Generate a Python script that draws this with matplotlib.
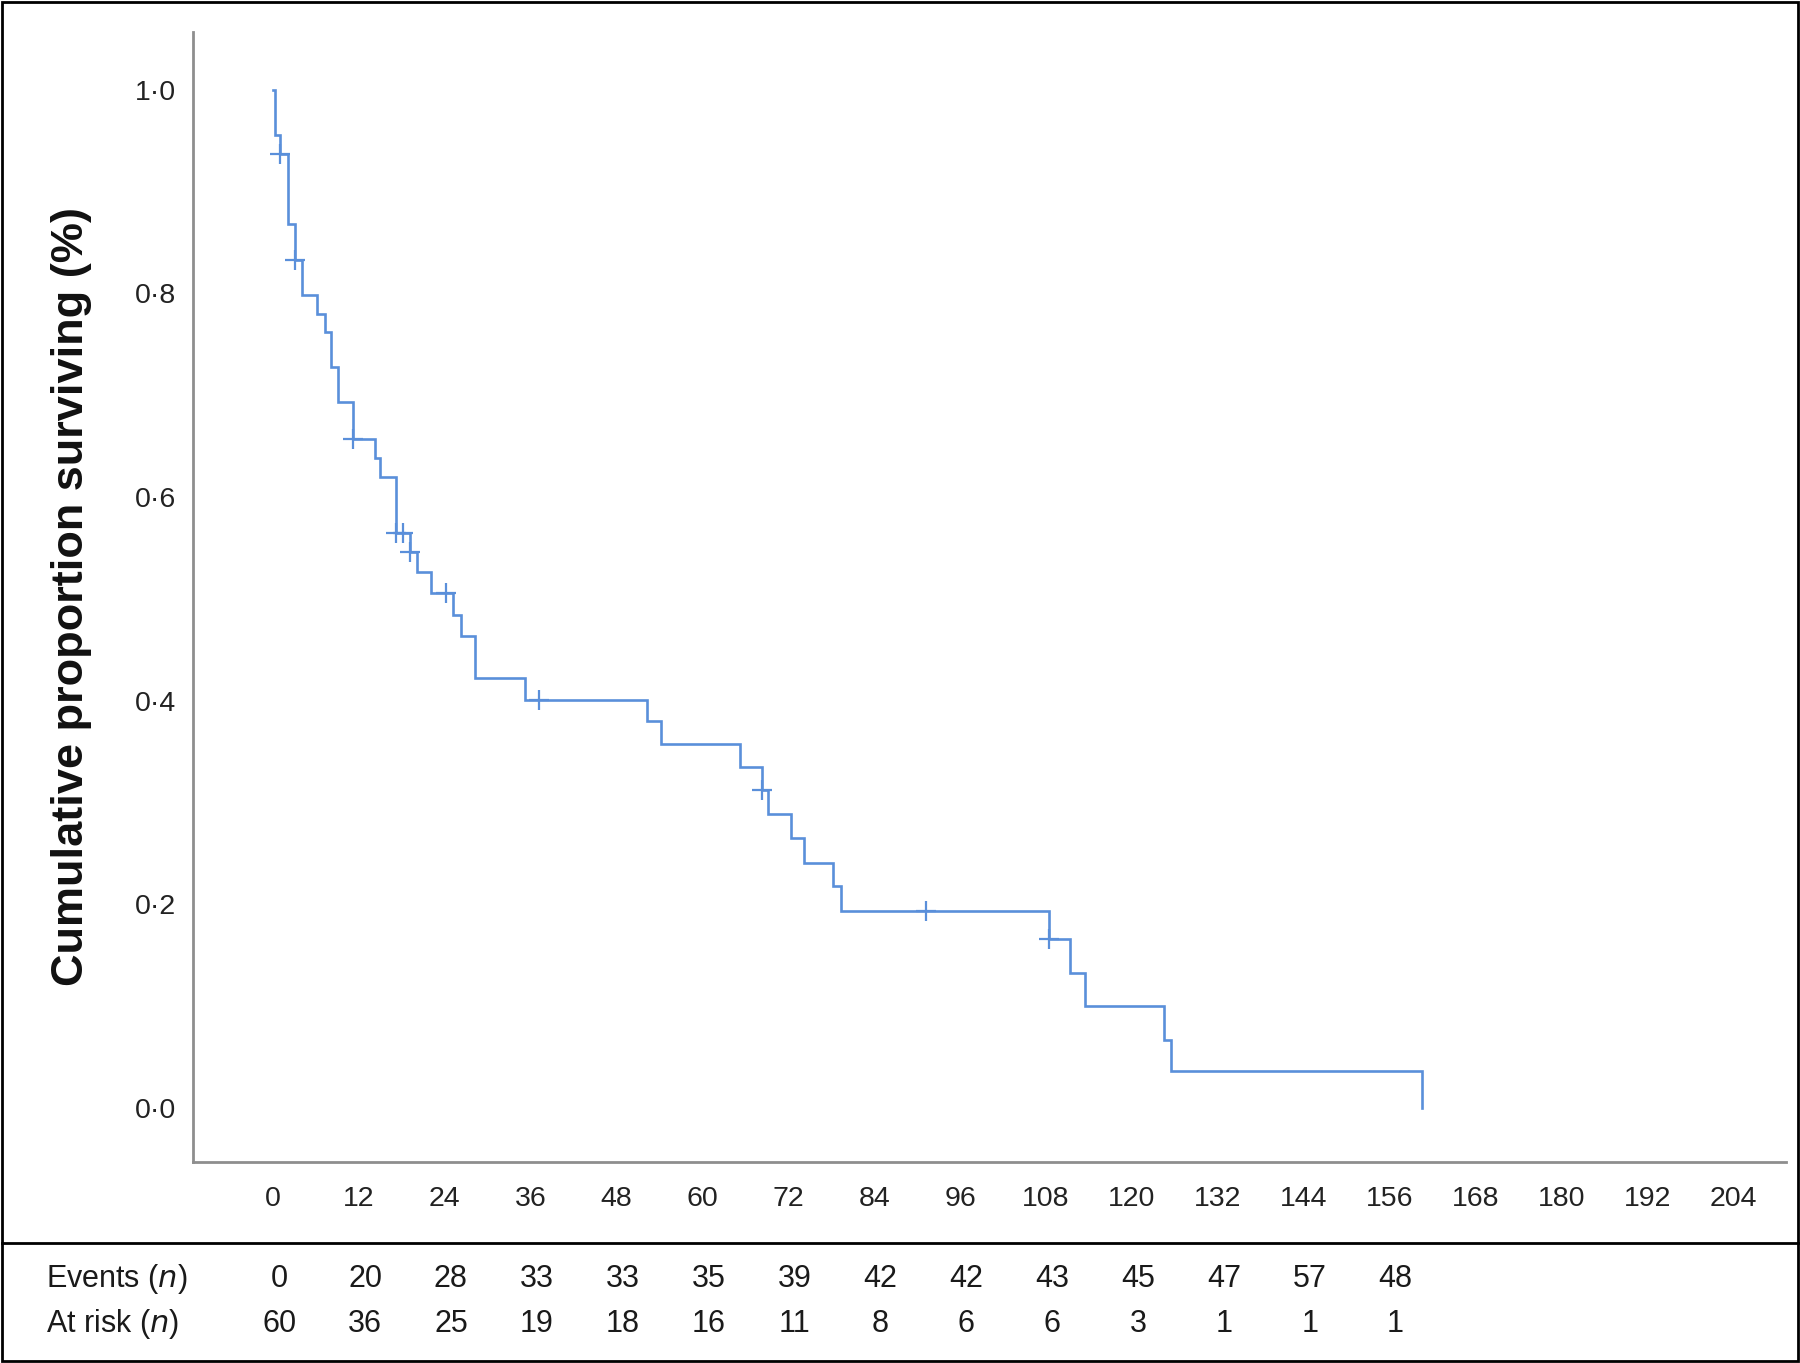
import numpy as np
import matplotlib
matplotlib.use('Agg')
import matplotlib.pyplot as plt
import matplotlib.transforms as mtransforms
from matplotlib.patches import Rectangle
from matplotlib.lines import Line2D

# ---- data ----
step_times = [0, 0.2, 1.0, 2.1, 3.1, 4.1, 6.1, 7.3, 8.1, 9.1, 11.1, 14.2, 15.0,
              17.2, 19.1, 20.1, 22.1, 25.2, 26.2, 28.2, 35.2, 52.3, 54.2, 65.3,
              68.3, 69.2, 72.3, 74.2, 78.3, 79.3, 108.4, 111.3, 113.4, 124.5,
              125.4, 160.5]
survival = [1.0, 0.955, 0.937, 0.868, 0.833, 0.798, 0.780, 0.762, 0.728, 0.693,
            0.657, 0.638, 0.620, 0.565, 0.546, 0.526, 0.506, 0.484, 0.463, 0.422,
            0.401, 0.380, 0.357, 0.335, 0.312, 0.289, 0.265, 0.241, 0.218, 0.193,
            0.166, 0.133, 0.100, 0.067, 0.036, 0.0]
censor_times = [1.0, 3.1, 11.1, 17.2, 18.1, 19.1, 24.2, 37.2, 68.3, 91.2, 108.4]

x_ticks = list(range(0, 205, 12))
y_ticks = [0.0, 0.2, 0.4, 0.6, 0.8, 1.0]
y_tick_labels = ['0·0', '0·2', '0·4', '0·6', '0·8', '1·0']

table_times = [0, 12, 24, 36, 48, 60, 72, 84, 96, 108, 120, 132, 144, 156]
events = [0, 20, 28, 33, 33, 35, 39, 42, 42, 43, 45, 47, 57, 48]
at_risk = [60, 36, 25, 19, 18, 16, 11, 8, 6, 6, 3, 1, 1, 1]

ylabel = 'Cumulative proportion surviving (%)'

# ---- style ----
W, H = 1800, 1363
DPI = 100
blue = '#5A8FDA'
spine_col = '#8E8E8E'
tick_font = ['Liberation Sans', 'DejaVu Sans']
table_font = ['Liberation Sans Narrow', 'DejaVu Sans Condensed', 'Liberation Sans', 'DejaVu Sans']

plt.rcParams['font.family'] = tick_font
plt.rcParams['mathtext.fontset'] = 'custom'
plt.rcParams['mathtext.rm'] = 'Liberation Sans Narrow'
plt.rcParams['mathtext.it'] = 'Liberation Sans Narrow:italic'

fig = plt.figure(figsize=(W / DPI, H / DPI), dpi=DPI)
fig.patch.set_facecolor('white')

ax_l, ax_r, ax_b, ax_t = 193, 1786, 1162, 32
ax = fig.add_axes([ax_l / W, 1 - ax_b / H, (ax_r - ax_l) / W, (ax_b - ax_t) / H])

ax.step(step_times, survival, where='post', color=blue, lw=1.9, solid_joinstyle='miter')
idx = np.searchsorted(step_times, censor_times, side='right') - 1
censor_vals = [survival[i] for i in idx]
ax.plot(censor_times, censor_vals, linestyle='none', marker='+', ms=15, mew=1.6, color=blue)

ax.set_xlim(-11.2, 211.4)
ax.set_ylim(-0.053, 1.0565)
ax.set_xticks(x_ticks)
ax.set_xticklabels([str(t) for t in x_ticks])
ax.set_yticks(y_ticks)
ax.set_yticklabels(y_tick_labels)
ax.tick_params(axis='both', length=0, labelsize=20.5, colors='#222222')
ax.tick_params(axis='x', pad=17)
ax.tick_params(axis='y', pad=12)

for s in ['top', 'right']:
    ax.spines[s].set_visible(False)
for s in ['left', 'bottom']:
    ax.spines[s].set_color(spine_col)
    ax.spines[s].set_linewidth(2.0)

ax.set_ylabel(ylabel, fontsize=32.5, fontweight='bold', color='#111111')
ax.yaxis.set_label_coords((92 - ax_l) / (ax_r - ax_l), 0.5)

# ---- risk table ----
trans = mtransforms.blended_transform_factory(ax.transData, fig.transFigure) + \
    mtransforms.ScaledTranslation(6 / DPI, 0, fig.dpi_scale_trans)
y_ev = 1 - 1279 / H
y_ar = 1 - 1324 / H
fs_tab = 22
fig.text(46 / W, y_ev, r'Events ($\mathit{n}$)', fontsize=fs_tab, family=table_font,
         ha='left', va='center', color='#1a1a1a')
fig.text(46 / W, y_ar, r'At risk ($\mathit{n}$)', fontsize=fs_tab, family=table_font,
         ha='left', va='center', color='#1a1a1a')
for t, e, r in zip(table_times, events, at_risk):
    ax.text(t, y_ev, str(e), transform=trans, fontsize=fs_tab, family=table_font,
            ha='center', va='center', color='#1a1a1a', clip_on=False)
    ax.text(t, y_ar, str(r), transform=trans, fontsize=fs_tab, family=table_font,
            ha='center', va='center', color='#1a1a1a', clip_on=False)

# ---- frame ----
fig.add_artist(Rectangle((2 / W, 2 / H), (W - 4) / W, (H - 4) / H, transform=fig.transFigure,
                         fill=False, edgecolor='black', lw=2.0))
fig.add_artist(Line2D([2 / W, (W - 2) / W], [1 - 1243 / H, 1 - 1243 / H],
                      transform=fig.transFigure, color='black', lw=2.0))

fig.savefig('out.png', dpi=DPI, facecolor='white')
